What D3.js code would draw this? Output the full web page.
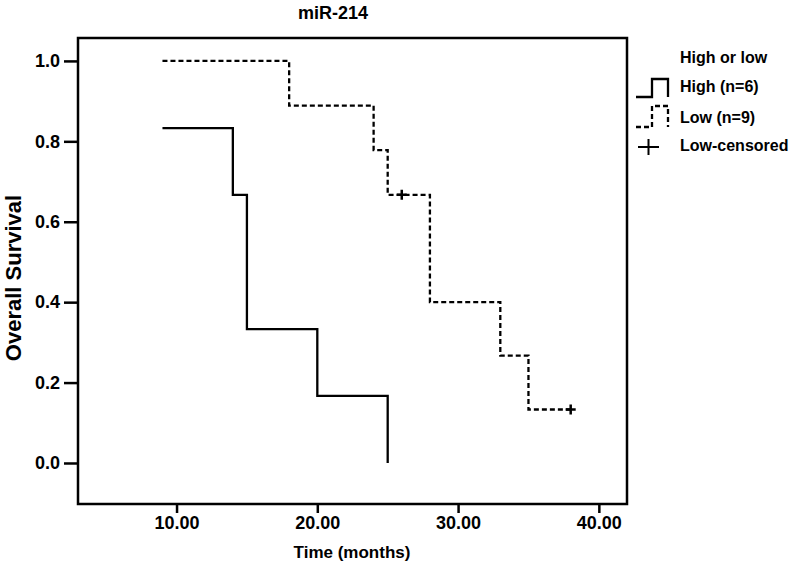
<!DOCTYPE html>
<meta charset="utf-8">
<script src="https://d3js.org/d3.v7.min.js"></script>
<style>
body { margin: 0; background: #fff; }
text { font-family: "Liberation Sans", Arial, sans-serif; font-weight: bold; fill: #000; }
.tick line { stroke: #000; stroke-width: 2.5px; }
.km { fill: none; stroke: #000; stroke-width: 2.3px; }
.dashed { stroke-dasharray: 5,3; }
</style>
<svg width="792" height="571"></svg>
<script>

// survival curves (time in months, cumulative survival)
var highTimes = [9, 14, 15, 20, 25];
var highSurv  = [0.833, 0.667, 0.333, 0.167, 0];

var lowTimes = [9, 18, 24, 25, 28, 33, 35];
var lowSurv  = [1.0, 0.889, 0.778, 0.667, 0.4, 0.267, 0.133];
var lowEnd = 38;

// censored points of the low group
var censorTimes = [26, 38];
var censorSurv  = [0.667, 0.133];

var xTicks = [10, 20, 30, 40];
var yTicks = [0, 0.2, 0.4, 0.6, 0.8, 1.0];

var svg = d3.select("svg");

var x = d3.scaleLinear().domain([3, 42]).range([78, 627]);
var y = d3.scaleLinear().domain([-0.102, 1.057]).range([504, 38]);

// frame
svg.append("rect")
    .attr("x", x.range()[0]).attr("y", y.range()[1])
    .attr("width", x.range()[1] - x.range()[0])
    .attr("height", y.range()[0] - y.range()[1])
    .attr("fill", "none").attr("stroke", "#000").attr("stroke-width", 2.5);

var xAxis = svg.append("g")
    .attr("transform", "translate(0," + y.range()[0] + ")")
    .call(d3.axisBottom(x).tickValues(xTicks).tickFormat(d3.format(".2f")).tickSize(9).tickPadding(3));
xAxis.select(".domain").remove();

var yAxis = svg.append("g")
    .attr("transform", "translate(" + x.range()[0] + ",0)")
    .call(d3.axisLeft(y).tickValues(yTicks).tickFormat(d3.format(".1f")).tickSize(14).tickPadding(4));
yAxis.select(".domain").remove();
svg.selectAll(".tick text").attr("font-size", 18)
    .style("font-family", "Liberation Sans, Arial, sans-serif").style("font-weight", "bold");

// step path for a curve; if end is given the last level runs on to it
function stepPath(times, surv, end) {
  var line = [];
  for (var i = 0; i < times.length; i++) {
    line.push([x(times[i]), y(surv[i])]);
    var next = i < times.length - 1 ? times[i + 1] : end;
    if (next !== undefined) line.push([x(next), y(surv[i])]);
  }
  return d3.line()(line);
}

svg.append("path").attr("class", "km").attr("d", stepPath(highTimes, highSurv));
svg.append("path").attr("class", "km dashed").attr("d", stepPath(lowTimes, lowSurv, lowEnd));

// censor marks
censorTimes.forEach(function(t, i) {
  var cx = x(t), cy = y(censorSurv[i]);
  svg.append("path").attr("d", "M" + (cx - 5) + "," + cy + "H" + (cx + 5) + "M" + cx + "," + (cy - 5) + "V" + (cy + 5))
      .attr("stroke", "#000").attr("stroke-width", 2.5).attr("fill", "none");
});

// titles
svg.append("text").attr("x", 333).attr("y", 19).attr("text-anchor", "middle")
    .attr("font-size", 18).text("miR-214");
svg.append("text").attr("x", 352).attr("y", 558).attr("text-anchor", "middle")
    .attr("font-size", 17).text("Time (months)");
svg.append("text").attr("transform", "translate(21,278) rotate(-90)").attr("text-anchor", "middle")
    .attr("font-size", 22).text("Overall Survival");

// legend
var legend = svg.append("g");
legend.append("text").attr("x", 680).attr("y", 63).attr("font-size", 16).text("High or low");
legend.append("path").attr("class", "km").attr("d", "M636,97H652V79H668V97");
legend.append("text").attr("x", 680).attr("y", 92).attr("font-size", 16).text("High (n=6)");
legend.append("path").attr("class", "km dashed").attr("d", "M636,127H652V106H668V127");
legend.append("text").attr("x", 680).attr("y", 123).attr("font-size", 16).text("Low (n=9)");
legend.append("path").attr("d", "M638,147H659M648.5,139V155").attr("stroke", "#000").attr("stroke-width", 2).attr("fill", "none");
legend.append("text").attr("x", 680).attr("y", 151).attr("font-size", 16).text("Low-censored");

</script>
